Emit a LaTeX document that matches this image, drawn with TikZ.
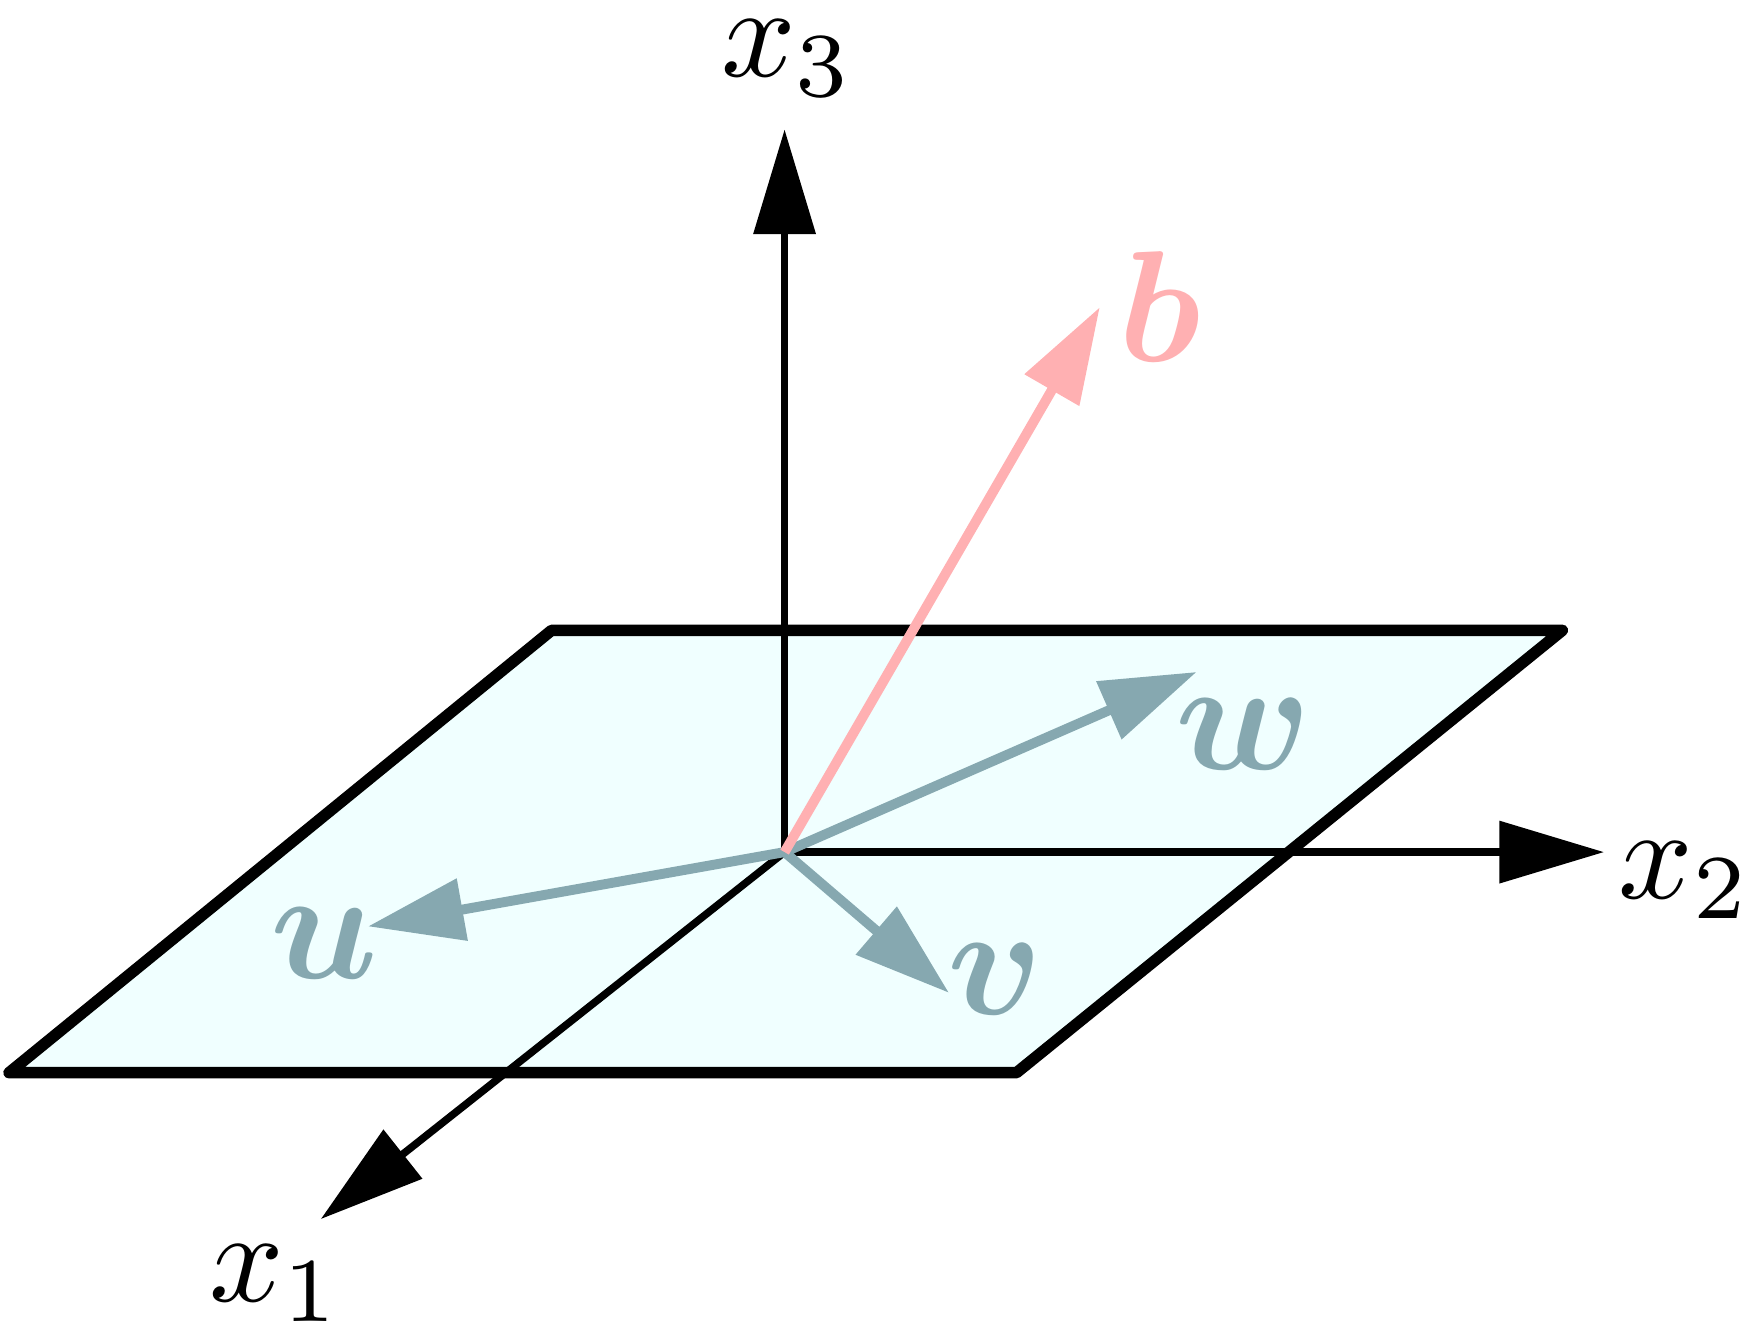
\documentclass[tikz,border=0pt]{standalone}
\usepackage{amsmath,bm,graphicx}
\usetikzlibrary{arrows.meta}
\definecolor{planecol}{HTML}{F0FFFF}
\definecolor{bcol}{HTML}{FFB0B2}
\definecolor{vcol}{HTML}{86A8B0}
\begin{document}
\begin{tikzpicture}[x=0.01cm,y=-0.01cm,
  ax/.style={line width=1.9pt,-{Triangle[length=0.93cm,width=0.54cm]}},
  vec/.style={line width=2.5pt,-{Triangle[length=0.85cm,width=0.54cm]}},
  lab/.style={inner sep=0pt}]
\useasboundingbox (0,0) rectangle (1560,1183);
\coordinate (O) at (697,757);
\coordinate (P1) at (490,560); \coordinate (P2) at (1388,560);
\coordinate (P3) at (903,953); \coordinate (P4) at (8,953);
\filldraw[fill=planecol,draw=black,line width=2.9pt,line join=round] (P1)--(P2)--(P3)--(P4)--cycle;
\coordinate (X3) at (697,115); \coordinate (X2) at (1425,757); \coordinate (X1) at (285,1083);
\draw[ax] (O)--(X3);
\draw[ax] (O)--(X2);
\draw[ax] (O)--(X1);
\coordinate (B) at (977,273); \coordinate (W) at (1063,597);
\coordinate (U) at (327,823); \coordinate (V) at (843,882);
\draw[vec,vcol] (O)--(W);
\draw[vec,vcol] (O)--(U);
\draw[vec,vcol] (O)--(V);
\draw[vec,bcol] (O)--(B);
\node[lab] (lx3) at (700,52) {\scalebox{3.3}{$x_3$}};
\node[lab] (lx2) at (1497,782) {\scalebox{3.3}{$x_2$}};
\node[lab] (lx1) at (245,1140) {\scalebox{3.3}{$x_1$}};
\node[lab,text=bcol] (lb) at (1030,272) {\scalebox{4}{$\bm{b}$}};
\node[lab,text=vcol] (lw) at (1105,652) {\scalebox{4}{$\bm{w}$}};
\node[lab,text=vcol] (lu) at (288,838) {\scalebox{4}{$\bm{u}$}};
\node[lab,text=vcol] (lv) at (884,870) {\scalebox{4}{$\bm{v}$}};
\end{tikzpicture}
\end{document}
